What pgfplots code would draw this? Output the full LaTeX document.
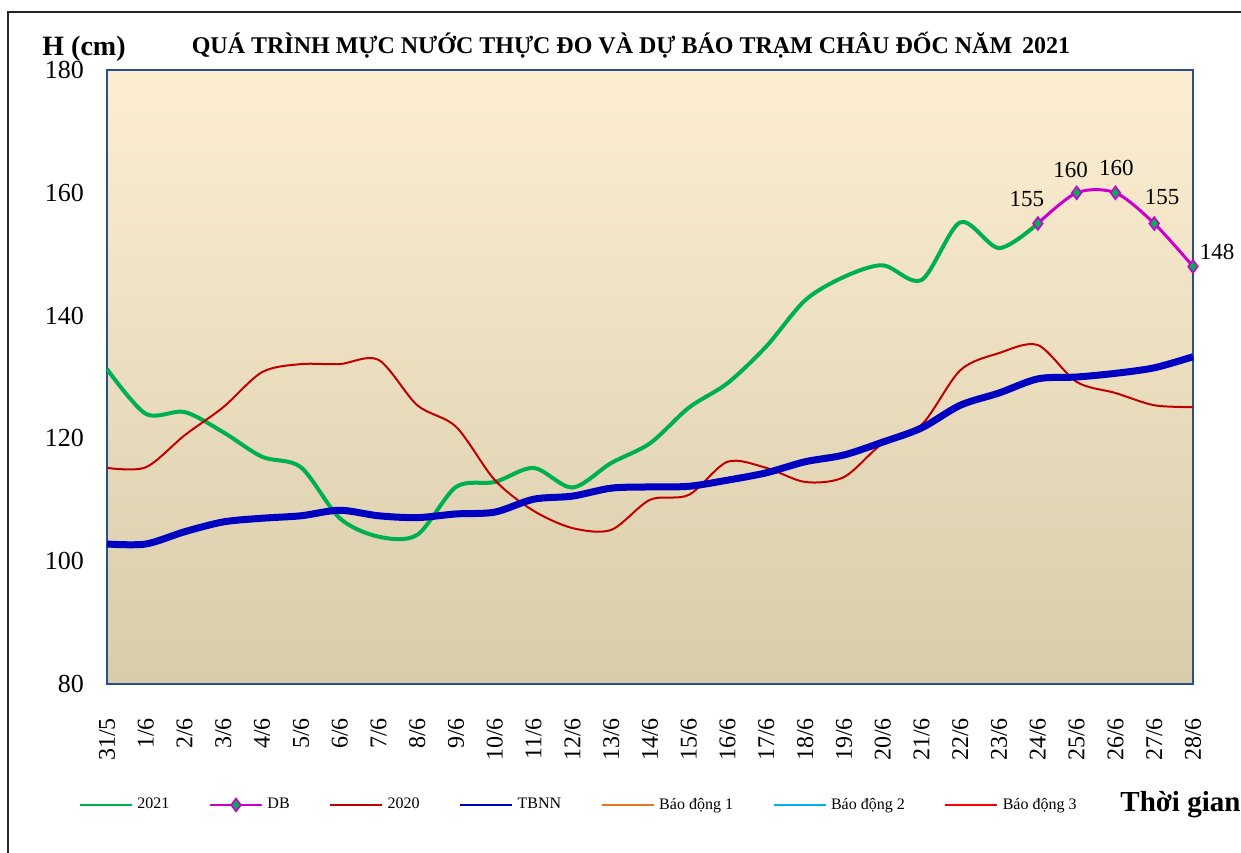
\documentclass[border=0pt]{standalone}
\usepackage{fontspec}
\setmainfont{Liberation Serif}
\usepackage{pgfplots}
\pgfplotsset{compat=1.18}
\definecolor{c2021}{RGB}{0,176,80}
\definecolor{cdb}{RGB}{204,0,204}
\definecolor{c2020}{RGB}{192,0,0}
\definecolor{ctbnn}{RGB}{0,0,192}
\definecolor{cbd1}{RGB}{232,119,34}
\definecolor{cbd2}{RGB}{0,176,240}
\definecolor{cbd3}{RGB}{255,0,0}
\definecolor{frame}{RGB}{40,80,140}
\definecolor{bgtop}{RGB}{253,238,210}
\definecolor{bgbot}{RGB}{216,204,170}
\begin{document}
\begin{tikzpicture}
\path[use as bounding box] (0,0) rectangle (620.5pt,-426pt);
\draw[line width=1pt, black!85] (4pt,-6pt) rectangle (640pt,-440pt);
\node[font=\bfseries\fontsize{14}{16}\selectfont, anchor=base] at (42pt,-27.5pt) {H (cm)};
\node[font=\bfseries\fontsize{12}{14}\selectfont, anchor=base] at (315.5pt,-26.5pt) {QUÁ TRÌNH MỰC NƯỚC THỰC ĐO VÀ DỰ BÁO TRẠM CHÂU ĐỐC NĂM\, 2021};
\node[font=\bfseries\fontsize{14.5}{16}\selectfont, anchor=west, inner sep=0pt] at (560pt,-402.5pt) {Thời gian};
\begin{axis}[
  at={(53.5pt,-35pt)}, anchor=north west,
  scale only axis, width=543pt, height=307pt,
  xmin=0, xmax=28, ymin=80, ymax=180,
  ytick={80,100,...,180},
  xtick={0,...,28},
  xticklabels={31/5,1/6,2/6,3/6,4/6,5/6,6/6,7/6,8/6,9/6,10/6,11/6,12/6,13/6,14/6,15/6,16/6,17/6,18/6,19/6,20/6,21/6,22/6,23/6,24/6,25/6,26/6,27/6,28/6},
  x tick label style={rotate=90, anchor=east, font=\fontsize{12}{13}\selectfont},
  xticklabel shift=13.5pt,
  y tick label style={font=\fontsize{13}{14}\selectfont, xshift=-8pt},
  /pgf/number format/assume math mode=true,
  major tick length=0pt,
  axis line style={draw=frame, line width=1pt},
  axis background/.style={shade, top color=bgtop, bottom color=bgbot},
  clip=false,
  legend image code/.code={\draw[mark repeat=2,mark phase=2,#1,line width=1.4pt] plot coordinates {(0pt,0pt) (13pt,0pt) (26pt,0pt)};},
  legend style={draw=none, fill=none, font=\fontsize{8}{9}\selectfont, legend columns=-1,
    at={(-0.032,-0.197)}, anchor=west,
    /tikz/every even column/.append style={column sep=17.6pt}},
]
\addplot[c2021, line width=2pt, smooth] coordinates {
(0,131.3)(1,124)(2,124.3)(3,121)(4,117)(5,115.3)(6,107)(7,104)(8,104.3)(9,112.1)
(10,112.9)(11,115.2)(12,112)(13,116)(14,119.2)(15,125)(16,129)(17,135)(18,142.5)
(19,146.3)(20,148.2)(21,145.8)(22,155.2)(23,151)(24,155)};
\addlegendentry{2021}
\addplot[cdb, line width=1.5pt, smooth, mark=diamond*, mark size=3.2pt, mark options={fill=c2021, draw=cdb, line width=0.8pt}] coordinates {
(24,155)(25,160)(26,160)(27,155)(28,148)};
\addlegendentry{DB}
\addplot[c2020, line width=1pt, smooth] coordinates {
(0,115.2)(1,115.3)(2,120.5)(3,125.1)(4,130.8)(5,132.1)(6,132.1)(7,132.8)(8,125.4)(9,121.9)
(10,113.2)(11,108.2)(12,105.4)(13,105.1)(14,110)(15,110.8)(16,116.2)(17,115.2)(18,112.9)
(19,113.7)(20,119.2)(21,122.2)(22,131.1)(23,133.9)(24,135.2)(25,129.2)(26,127.4)(27,125.4)(28,125.1)};
\addlegendentry{2020}
\addplot[ctbnn, line width=3.5pt, smooth] coordinates {
(0,102.8)(1,102.8)(2,104.8)(3,106.4)(4,107)(5,107.4)(6,108.3)(7,107.4)(8,107.1)(9,107.7)
(10,108)(11,110.1)(12,110.6)(13,111.9)(14,112.1)(15,112.2)(16,113.2)(17,114.4)(18,116.2)
(19,117.3)(20,119.4)(21,121.7)(22,125.4)(23,127.4)(24,129.7)(25,130)(26,130.6)(27,131.5)(28,133.3)};
\addlegendentry{TBNN}
\addlegendimage{cbd1}
\addlegendentry{Báo động 1}
\addlegendimage{cbd2}
\addlegendentry{Báo động 2}
\addlegendimage{cbd3}
\addlegendentry{Báo động 3}
\node[font=\fontsize{11.5}{12}\selectfont, xshift=-5.5pt, yshift=12pt] at (axis cs:24,155) {155};
\node[font=\fontsize{11.5}{12}\selectfont, xshift=-3pt, yshift=11.5pt] at (axis cs:25,160) {160};
\node[font=\fontsize{11.5}{12}\selectfont, xshift=0.5pt, yshift=12.5pt] at (axis cs:26,160) {160};
\node[font=\fontsize{11.5}{12}\selectfont, xshift=4pt, yshift=13pt] at (axis cs:27,155) {155};
\node[font=\fontsize{11.5}{12}\selectfont, xshift=12pt, yshift=7.5pt] at (axis cs:28,148) {148};
\end{axis}
\end{tikzpicture}
\end{document}
